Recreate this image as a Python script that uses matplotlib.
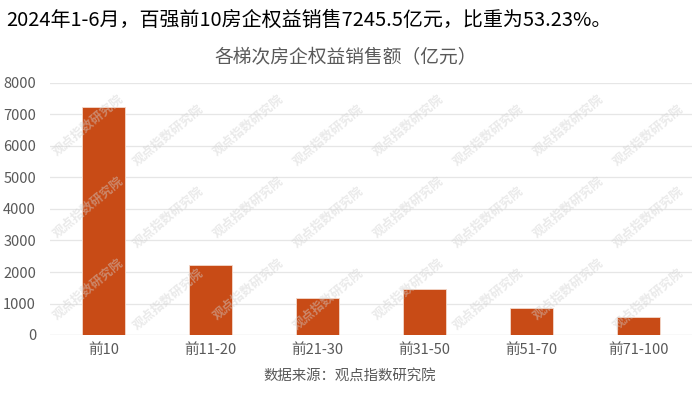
import matplotlib.pyplot as plt

plt.rcParams['font.family'] = ['Noto Sans CJK SC', 'DejaVu Sans']

categories = ["前10", "前11-20", "前21-30", "前31-50", "前51-70", "前71-100"]
sales = [7245.5, 2220, 1180, 1455, 845, 585]
yticks = [0, 1000, 2000, 3000, 4000, 5000, 6000, 7000, 8000]

BAR = "#C84B16"
GRAY = "#595959"

fig = plt.figure(figsize=(7, 3.94), dpi=100)
ax = fig.add_axes([50 / 700, 1 - 335 / 394, 642 / 700, 252 / 394])

x = range(len(categories))
ax.bar(x, sales, width=0.4, color=BAR, edgecolor="#F3D9CC", linewidth=0.6, zorder=3)
ax.set_xlim(-0.5, len(categories) - 0.5)
ax.set_ylim(0, 8000)
ax.set_yticks(yticks)
ax.set_xticks(list(x))
ax.set_xticklabels(categories)
ax.tick_params(axis="both", length=0, colors=GRAY, labelsize=10.5)
ax.tick_params(axis="y", pad=10)
ax.tick_params(axis="x", pad=6)
ax.grid(axis="y", color="#E6E6E6", linewidth=0.9, zorder=0)
for s in ax.spines.values():
    s.set_visible(False)
ax.axhline(0, color="#E0E0E0", linewidth=0.9, zorder=1)

# watermark
for i in range(8):
    for j in range(3):
        fig.text((88 + i * 80) / 700, 1 - (125 + j * 82 + (i % 2) * 10) / 394, "观点指数研究院",
                 rotation=40, fontsize=9, color="#D0D0D0", alpha=0.45,
                 ha="center", va="center", weight="bold", zorder=5)

fig.text(6 / 700, 1 - 20 / 394, "2024年1-6月，百强前10房企权益销售7245.5亿元，比重为53.23%。",
         fontsize=14.4, color="black", va="center", ha="left")
fig.text(346 / 700, 1 - 58 / 394, "各梯次房企权益销售额（亿元）",
         fontsize=13.5, color=GRAY, va="center", ha="center")
fig.text(263 / 700, 1 - 376 / 394, "数据来源：观点指数研究院",
         fontsize=10.4, color=GRAY, va="center", ha="left")

fig.savefig("out.png", dpi=100, facecolor="white")
